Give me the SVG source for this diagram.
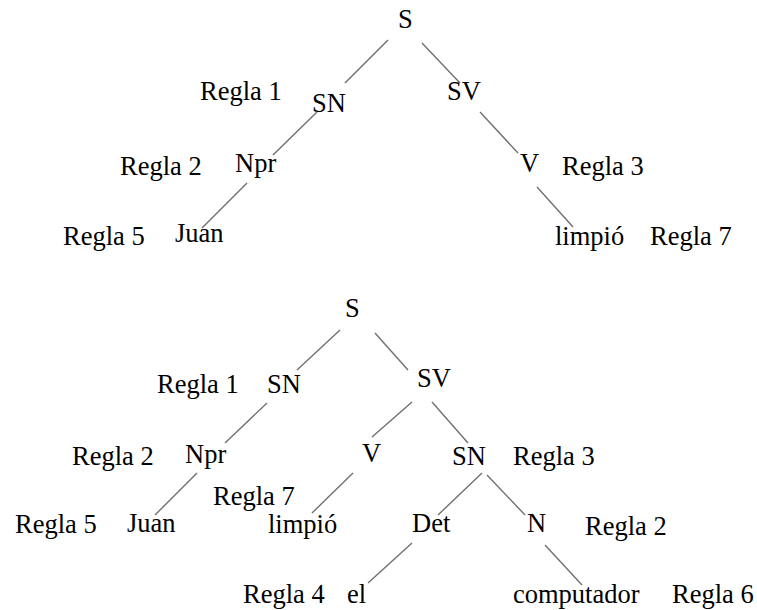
<svg xmlns="http://www.w3.org/2000/svg" width="757" height="610" viewBox="0 0 757 610">
<style>
.t{font-family:'Liberation Serif',serif;font-size:26.5px;fill:#000}
.c{stroke:#707070;stroke-width:1.4;fill:none}
</style>
<rect width="757" height="610" fill="#fff"/>
<g id="connectors">
<line class="c" x1="388" y1="40" x2="345" y2="83"/>
<line class="c" x1="422" y1="43" x2="460" y2="83"/>
<line class="c" x1="317" y1="112" x2="273" y2="155"/>
<line class="c" x1="247" y1="183" x2="202" y2="228"/>
<line class="c" x1="480" y1="112" x2="518" y2="153"/>
<line class="c" x1="537" y1="187" x2="573" y2="227"/>
<line class="c" x1="340" y1="330" x2="297" y2="370"/>
<line class="c" x1="375" y1="333" x2="408" y2="370"/>
<line class="c" x1="267" y1="403" x2="225" y2="443"/>
<line class="c" x1="412" y1="402" x2="372" y2="437"/>
<line class="c" x1="432" y1="402" x2="468" y2="443"/>
<line class="c" x1="197" y1="473" x2="155" y2="515"/>
<line class="c" x1="353" y1="473" x2="312" y2="513"/>
<line class="c" x1="482" y1="473" x2="438" y2="515"/>
<line class="c" x1="487" y1="475" x2="525" y2="515"/>
<line class="c" x1="412" y1="543" x2="368" y2="583"/>
<line class="c" x1="545" y1="545" x2="582" y2="585"/>
</g>
<g id="t1_S"><text class="t" font-family="Liberation Serif" x="398" y="28">S</text></g>
<g id="t1_SN"><text class="t" font-family="Liberation Serif" x="312" y="112">SN</text></g>
<g id="t1_SV"><text class="t" font-family="Liberation Serif" x="447" y="100">SV</text></g>
<g id="t1_Npr"><text class="t" font-family="Liberation Serif" x="235" y="172">Npr</text></g>
<g id="t1_V"><text class="t" font-family="Liberation Serif" x="520" y="172">V</text></g>
<g id="t1_Juan"><text class="t" font-family="Liberation Serif" x="175" y="242">Juan</text></g>
<g id="t1_limpio"><text class="t" font-family="Liberation Serif" x="555" y="245">limpi&#243;</text></g>
<g id="t1_r1"><text class="t" font-family="Liberation Serif" x="200" y="100">Regla 1</text></g>
<g id="t1_r2"><text class="t" font-family="Liberation Serif" x="120" y="175">Regla 2</text></g>
<g id="t1_r5"><text class="t" font-family="Liberation Serif" x="63" y="245">Regla 5</text></g>
<g id="t1_r3"><text class="t" font-family="Liberation Serif" x="562" y="175">Regla 3</text></g>
<g id="t1_r7"><text class="t" font-family="Liberation Serif" x="650" y="245">Regla 7</text></g>
<g id="t2_S"><text class="t" font-family="Liberation Serif" x="345" y="317">S</text></g>
<g id="t2_SN"><text class="t" font-family="Liberation Serif" x="267" y="393">SN</text></g>
<g id="t2_SV"><text class="t" font-family="Liberation Serif" x="417" y="387">SV</text></g>
<g id="t2_Npr"><text class="t" font-family="Liberation Serif" x="185" y="463">Npr</text></g>
<g id="t2_V"><text class="t" font-family="Liberation Serif" x="362" y="462">V</text></g>
<g id="t2_SN2"><text class="t" font-family="Liberation Serif" x="452" y="465">SN</text></g>
<g id="t2_Juan"><text class="t" font-family="Liberation Serif" x="127" y="532">Juan</text></g>
<g id="t2_limpio"><text class="t" font-family="Liberation Serif" x="268" y="533">limpi&#243;</text></g>
<g id="t2_Det"><text class="t" font-family="Liberation Serif" x="412" y="532">Det</text></g>
<g id="t2_N"><text class="t" font-family="Liberation Serif" x="527" y="532">N</text></g>
<g id="t2_el"><text class="t" font-family="Liberation Serif" x="347" y="603">el</text></g>
<g id="t2_comp"><text class="t" font-family="Liberation Serif" x="513" y="603">computador</text></g>
<g id="t2_r1"><text class="t" font-family="Liberation Serif" x="157" y="393">Regla 1</text></g>
<g id="t2_r2"><text class="t" font-family="Liberation Serif" x="72" y="465">Regla 2</text></g>
<g id="t2_r3"><text class="t" font-family="Liberation Serif" x="513" y="465">Regla 3</text></g>
<g id="t2_r7"><text class="t" font-family="Liberation Serif" x="213" y="505">Regla 7</text></g>
<g id="t2_r5"><text class="t" font-family="Liberation Serif" x="15" y="533">Regla 5</text></g>
<g id="t2_r2b"><text class="t" font-family="Liberation Serif" x="585" y="535">Regla 2</text></g>
<g id="t2_r4"><text class="t" font-family="Liberation Serif" x="243" y="603">Regla 4</text></g>
<g id="t2_r6"><text class="t" font-family="Liberation Serif" x="672" y="603">Regla 6</text></g>
</svg>
